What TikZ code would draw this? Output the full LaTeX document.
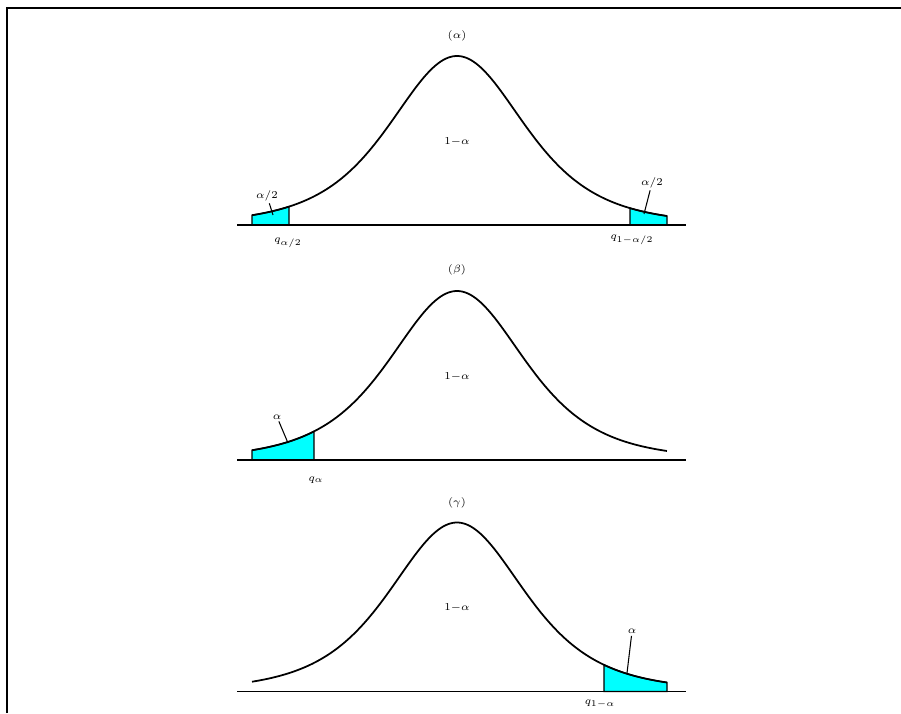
\documentclass[tikz,border=0pt]{standalone}
\usetikzlibrary{positioning}
\definecolor{tail}{HTML}{00FFFF}

\begin{document}
\begin{tikzpicture}[x=2cm,y=2cm,
      font=\fontsize{6.5}{7.5}\selectfont,
      declare function={dens(\t)=1.69/(1+(\t-4.57)^2/1.9755)^2.5;},
      curve/.style={line width=1pt,black},
      axis/.style={line width=1pt,black},
      tailfill/.style={fill=tail,draw=black,line width=0.8pt},
      ptr/.style={line width=0.6pt,black},
      lbl/.style={inner sep=1pt}]

    \useasboundingbox (0,0) rectangle (9.01,7.13);
    \draw[line width=1.1pt] (0.07,0) -- (0.07,7.05) -- (9.01,7.05);

    % (alpha): two tails
    \begin{scope}[shift={(0,4.88)}]
      \draw[tailfill] (2.52,0) -- plot[domain=2.52:2.89,samples=10] (\x,{dens(\x)}) -- (2.89,0) -- cycle;
      \draw[tailfill] (6.30,0) -- plot[domain=6.30:6.67,samples=10] (\x,{dens(\x)}) -- (6.67,0) -- cycle;
      \draw[axis] (2.37,0) -- (6.86,0);
      \draw[curve] plot[domain=2.52:6.67,samples=90,smooth] (\x,{dens(\x)});
      \node[lbl] (ta) at (4.57,1.89) {$(\alpha)$};
      \node[lbl] (ca) at (4.57,0.83) {$1{-}\alpha$};
      \node[lbl] (aL) at (2.67,0.29) {$\alpha/2$};
      \coordinate (pL) at (2.73,0.10);
      \draw[ptr] (aL) -- (pL);
      \node[lbl] (qL) at (2.88,-0.18) {$q_{\alpha/2}$};
      \node[lbl] (aR) at (6.52,0.42) {$\alpha/2$};
      \coordinate (pR) at (6.44,0.11);
      \draw[ptr] (aR) -- (pR);
      \node[lbl] (qR) at (6.32,-0.15) {$q_{1-\alpha/2}$};
    \end{scope}

    % (beta): left tail
    \begin{scope}[shift={(0,2.53)}]
      \draw[tailfill] (2.52,0) -- plot[domain=2.52:3.14,samples=12] (\x,{dens(\x)}) -- (3.14,0) -- cycle;
      \draw[axis] (2.37,0) -- (6.86,0);
      \draw[curve] plot[domain=2.52:6.67,samples=90,smooth] (\x,{dens(\x)});
      \node[lbl] (tb) at (4.57,1.90) {$(\beta)$};
      \node[lbl] (cb) at (4.57,0.83) {$1{-}\alpha$};
      \node[lbl] (ab) at (2.77,0.43) {$\alpha$};
      \coordinate (pb) at (2.88,0.17);
      \draw[ptr] (ab) -- (pb);
      \node[lbl] (qb) at (3.16,-0.20) {$q_{\alpha}$};
    \end{scope}

    % (gamma): right tail
    \begin{scope}[shift={(0,0.215)}]
      \draw[tailfill] (6.04,0) -- plot[domain=6.04:6.67,samples=12] (\x,{dens(\x)}) -- (6.67,0) -- cycle;
      \draw[axis] (2.37,0) -- (6.86,0);
      \draw[curve] plot[domain=2.52:6.67,samples=90,smooth] (\x,{dens(\x)});
      \node[lbl] (tg) at (4.57,1.885) {$(\gamma)$};
      \node[lbl] (cg) at (4.57,0.835) {$1{-}\alpha$};
      \node[lbl] (ag) at (6.32,0.60) {$\alpha$};
      \coordinate (pg) at (6.27,0.185);
      \draw[ptr] (ag) -- (pg);
      \node[lbl] (qg) at (6.00,-0.125) {$q_{1-\alpha}$};
    \end{scope}
  \end{tikzpicture}
\end{document}
